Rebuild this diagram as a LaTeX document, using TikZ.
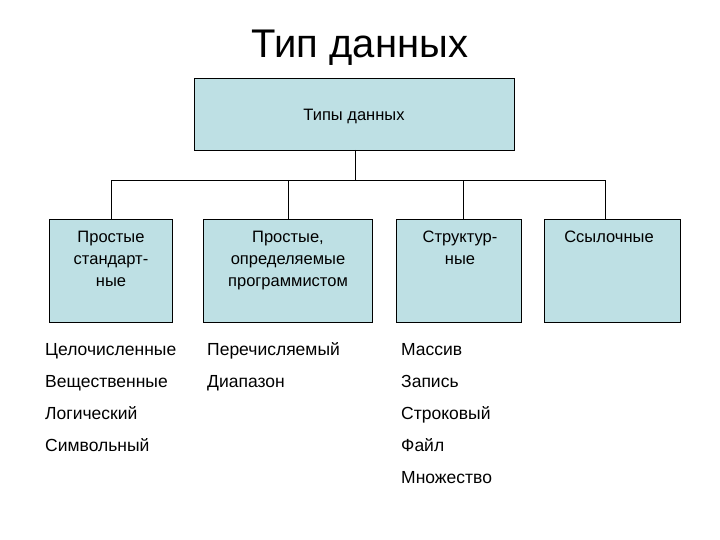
\documentclass[tikz,border=0pt]{standalone}
\usepackage{fontspec}
\setmainfont{Liberation Sans}
\begin{document}
\begin{tikzpicture}[x=1pt,y=-1pt,
  bx/.style={draw=black,fill={rgb,255:red,190;green,224;blue,228},line width=0.8pt},
  bt/.style={anchor=north,align=center,font=\fontsize{16.5}{22}\selectfont,inner sep=0pt},
  it/.style={anchor=base west,font=\fontsize{17.5}{20}\selectfont,inner sep=0pt},
  ln/.style={draw=black,line width=0.8pt}]
\useasboundingbox (0,0) rectangle (720,540);
\node[anchor=base] (title) at (360,58) {\fontsize{40}{44}\selectfont Тип данных};
\draw[bx] (194,78) rectangle (514,150);
\node (top) at (354,116) {\fontsize{16.5}{20}\selectfont Типы данных};
\coordinate (tb) at (355,150);
\coordinate (hub) at (355,180);
\draw[bx] (49,219) rectangle (172,322);
\draw[bx] (203,219) rectangle (372,322);
\draw[bx] (396,219) rectangle (521,322);
\draw[bx] (544,219) rectangle (680,322);
\coordinate (a) at (111,219); \coordinate (b) at (288,219);
\coordinate (c) at (463,219); \coordinate (d) at (605,219);
\draw[ln] (tb) -- (hub);
\draw[ln] (a) -- (111,180) -- (605,180) -- (d);
\draw[ln] (b) -- (288,180);
\draw[ln] (c) -- (463,180);
\node[bt] (t1) at (111,231) {Простые\\стандарт-\\ные};
\node[bt] (t2) at (288,231) {Простые,\\определяемые\\программистом};
\node[bt] (t3) at (460,231) {Структур-\\ные};
\node[bt] (t4) at (609,231) {Ссылочные};
\node[it] (l1) at (45,355) {Целочисленные};
\node[it] (l2) at (45,387) {Вещественные};
\node[it] (l3) at (45,419) {Логический};
\node[it] (l4) at (45,451) {Символьный};
\node[it] (m1) at (207,355) {Перечисляемый};
\node[it] (m2) at (207,387) {Диапазон};
\node[it] (r1) at (401,355) {Массив};
\node[it] (r2) at (401,387) {Запись};
\node[it] (r3) at (401,419) {Строковый};
\node[it] (r4) at (401,451) {Файл};
\node[it] (r5) at (401,483) {Множество};
\end{tikzpicture}
\end{document}
